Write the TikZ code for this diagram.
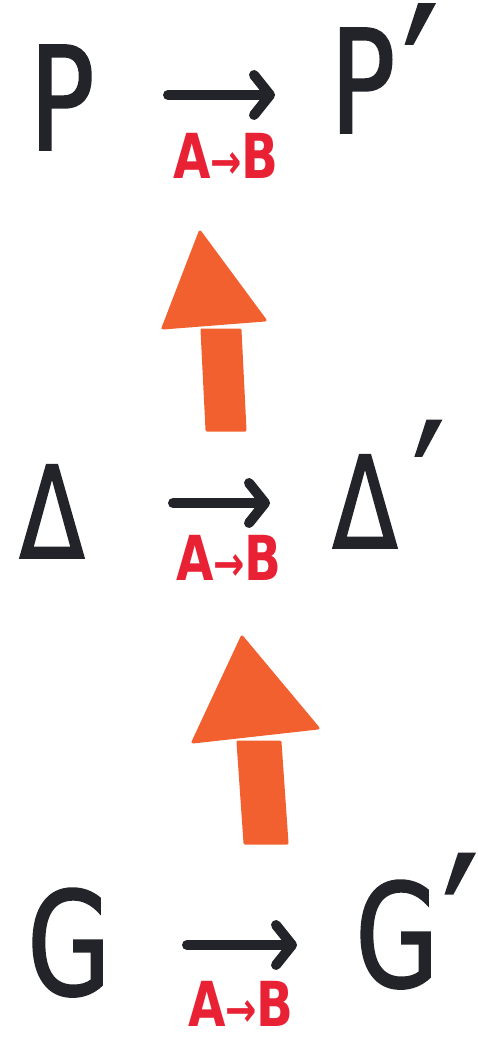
\documentclass[tikz,border=0pt]{standalone}
\usepackage{fontspec}
\setmainfont{DejaVu Sans}
\newfontfamily\hand[FakeStretch=0.75,FakeBold=1.2]{DejaVu Sans}
\newfontfamily\handl[FakeStretch=0.78]{DejaVu Sans}
\usetikzlibrary{arrows.meta}
\definecolor{ink}{RGB}{35,36,42}
\definecolor{redink}{RGB}{232,34,52}
\definecolor{orangeink}{RGB}{242,96,48}
\newcommand{\pr}[2]{\kern#1em\raisebox{#2em}{\scalebox{1.4}[1.5]{′}}}
\newcommand{\sarr}{{\fontsize{48}{48}\selectfont →}}
\tikzset{
  big/.style={font=\hand\fontsize{144}{144}\selectfont, text=ink, inner sep=0pt, anchor=base},
  mid/.style={font=\hand\fontsize{128}{128}\selectfont, text=ink, inner sep=0pt, anchor=base},
  lab/.style={font=\handl\bfseries\fontsize{62}{62}\selectfont, text=redink, inner sep=0pt, anchor=base},
  harrow/.style={draw=ink, line width=10pt, line cap=round, -{Straight Barb[length=16pt, width=40pt, round]}},
  fat/.style={fill=orangeink, draw=orangeink, line width=3pt, line join=round},
}
\begin{document}
\begin{tikzpicture}[x=1pt,y=-1pt]
\useasboundingbox[fill=white] (0,0) rectangle (477,1041);
% row 1
\node[big] (P) at (62,150) {P};
\node[big, anchor=base west] (P2) at (330,133) {P\pr{0.055}{-0.2}};
\coordinate (a1s) at (168,95);
\coordinate (a1e) at (275,95);
\draw[harrow] (a1s) -- (a1e);
\node[lab] (l1) at (226,178) {A\sarr B};
% row 2
\node[mid] (D) at (52,558) {Δ};
\node[mid, anchor=base west] (D2) at (332,548) {Δ\pr{0.12}{-0.1}};
\coordinate (a2s) at (173,503);
\coordinate (a2e) at (270,503);
\draw[harrow] (a2s) -- (a2e);
\node[lab] (l2) at (229,580) {A\sarr B};
% row 3
\node[big] (G) at (69,995) {G};
\node[big, anchor=base west] (G2) at (355,987) {G\pr{0.03}{-0.17}};
\coordinate (a3s) at (187,945);
\coordinate (a3e) at (297,945);
\draw[harrow] (a3s) -- (a3e);
\node[lab] (l3) at (241,1026) {A\sarr B};
% orange arrows
\fill[fat] (202,330) -- (240,330) -- (245,430) -- (207,430) -- cycle;
\fill[fat] (200,232) -- (265,320) -- (163,328) -- cycle;
\fill[fat] (238,742) -- (280,742) -- (287,843) -- (245,843) -- cycle;
\fill[fat] (242,637) -- (318,728) -- (193,742) -- cycle;
\end{tikzpicture}
\end{document}
